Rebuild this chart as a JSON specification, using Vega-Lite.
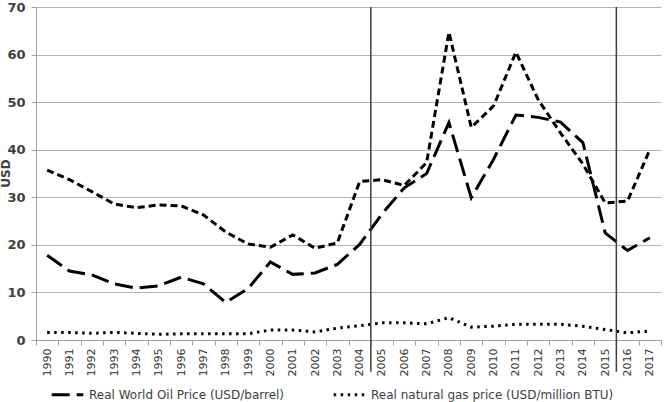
{
  "$schema": "https://vega.github.io/schema/vega-lite/v6.json",
  "width": 625,
  "height": 333,
  "autosize": {"type": "none"},
  "padding": {"left": 36, "top": 7, "right": 7, "bottom": 62},
  "background": "white",
  "config": {"view": {"stroke": null}, "font": "DejaVu Sans"},
  "datasets": {
    "prices": [
      {"year": 1990, "series": "Real World Oil Price (USD/barrel)", "value": 17.8},
      {"year": 1991, "series": "Real World Oil Price (USD/barrel)", "value": 14.5},
      {"year": 1992, "series": "Real World Oil Price (USD/barrel)", "value": 13.7},
      {"year": 1993, "series": "Real World Oil Price (USD/barrel)", "value": 11.8},
      {"year": 1994, "series": "Real World Oil Price (USD/barrel)", "value": 10.9},
      {"year": 1995, "series": "Real World Oil Price (USD/barrel)", "value": 11.4},
      {"year": 1996, "series": "Real World Oil Price (USD/barrel)", "value": 13.2},
      {"year": 1997, "series": "Real World Oil Price (USD/barrel)", "value": 11.8},
      {"year": 1998, "series": "Real World Oil Price (USD/barrel)", "value": 7.9},
      {"year": 1999, "series": "Real World Oil Price (USD/barrel)", "value": 10.8},
      {"year": 2000, "series": "Real World Oil Price (USD/barrel)", "value": 16.4},
      {"year": 2001, "series": "Real World Oil Price (USD/barrel)", "value": 13.8},
      {"year": 2002, "series": "Real World Oil Price (USD/barrel)", "value": 14.1},
      {"year": 2003, "series": "Real World Oil Price (USD/barrel)", "value": 15.9},
      {"year": 2004, "series": "Real World Oil Price (USD/barrel)", "value": 20.1},
      {"year": 2005, "series": "Real World Oil Price (USD/barrel)", "value": 26.5},
      {"year": 2006, "series": "Real World Oil Price (USD/barrel)", "value": 32.0},
      {"year": 2007, "series": "Real World Oil Price (USD/barrel)", "value": 35.0},
      {"year": 2008, "series": "Real World Oil Price (USD/barrel)", "value": 45.7},
      {"year": 2009, "series": "Real World Oil Price (USD/barrel)", "value": 29.9},
      {"year": 2010, "series": "Real World Oil Price (USD/barrel)", "value": 38.0},
      {"year": 2011, "series": "Real World Oil Price (USD/barrel)", "value": 47.3},
      {"year": 2012, "series": "Real World Oil Price (USD/barrel)", "value": 46.8},
      {"year": 2013, "series": "Real World Oil Price (USD/barrel)", "value": 45.8},
      {"year": 2014, "series": "Real World Oil Price (USD/barrel)", "value": 41.5},
      {"year": 2015, "series": "Real World Oil Price (USD/barrel)", "value": 22.5},
      {"year": 2016, "series": "Real World Oil Price (USD/barrel)", "value": 18.8},
      {"year": 2017, "series": "Real World Oil Price (USD/barrel)", "value": 21.5},
      {"year": 1990, "series": "Other series", "value": 35.7},
      {"year": 1991, "series": "Other series", "value": 33.7},
      {"year": 1992, "series": "Other series", "value": 31.2},
      {"year": 1993, "series": "Other series", "value": 28.6},
      {"year": 1994, "series": "Other series", "value": 27.8},
      {"year": 1995, "series": "Other series", "value": 28.4},
      {"year": 1996, "series": "Other series", "value": 28.2},
      {"year": 1997, "series": "Other series", "value": 26.3},
      {"year": 1998, "series": "Other series", "value": 22.7},
      {"year": 1999, "series": "Other series", "value": 20.2},
      {"year": 2000, "series": "Other series", "value": 19.5},
      {"year": 2001, "series": "Other series", "value": 22.1},
      {"year": 2002, "series": "Other series", "value": 19.3},
      {"year": 2003, "series": "Other series", "value": 20.4},
      {"year": 2004, "series": "Other series", "value": 33.3},
      {"year": 2005, "series": "Other series", "value": 33.7},
      {"year": 2006, "series": "Other series", "value": 32.5},
      {"year": 2007, "series": "Other series", "value": 37.3},
      {"year": 2008, "series": "Other series", "value": 64.7},
      {"year": 2009, "series": "Other series", "value": 44.7},
      {"year": 2010, "series": "Other series", "value": 49.2},
      {"year": 2011, "series": "Other series", "value": 60.5},
      {"year": 2012, "series": "Other series", "value": 50.5},
      {"year": 2013, "series": "Other series", "value": 43.5},
      {"year": 2014, "series": "Other series", "value": 37.0},
      {"year": 2015, "series": "Other series", "value": 28.8},
      {"year": 2016, "series": "Other series", "value": 29.2},
      {"year": 2017, "series": "Other series", "value": 40.0},
      {"year": 1990, "series": "Real natural gas price (USD/million BTU)", "value": 1.6},
      {"year": 1991, "series": "Real natural gas price (USD/million BTU)", "value": 1.6},
      {"year": 1992, "series": "Real natural gas price (USD/million BTU)", "value": 1.4},
      {"year": 1993, "series": "Real natural gas price (USD/million BTU)", "value": 1.6},
      {"year": 1994, "series": "Real natural gas price (USD/million BTU)", "value": 1.4},
      {"year": 1995, "series": "Real natural gas price (USD/million BTU)", "value": 1.2},
      {"year": 1996, "series": "Real natural gas price (USD/million BTU)", "value": 1.3},
      {"year": 1997, "series": "Real natural gas price (USD/million BTU)", "value": 1.3},
      {"year": 1998, "series": "Real natural gas price (USD/million BTU)", "value": 1.3},
      {"year": 1999, "series": "Real natural gas price (USD/million BTU)", "value": 1.3},
      {"year": 2000, "series": "Real natural gas price (USD/million BTU)", "value": 2.1},
      {"year": 2001, "series": "Real natural gas price (USD/million BTU)", "value": 2.1},
      {"year": 2002, "series": "Real natural gas price (USD/million BTU)", "value": 1.7},
      {"year": 2003, "series": "Real natural gas price (USD/million BTU)", "value": 2.5},
      {"year": 2004, "series": "Real natural gas price (USD/million BTU)", "value": 3.0},
      {"year": 2005, "series": "Real natural gas price (USD/million BTU)", "value": 3.6},
      {"year": 2006, "series": "Real natural gas price (USD/million BTU)", "value": 3.6},
      {"year": 2007, "series": "Real natural gas price (USD/million BTU)", "value": 3.4},
      {"year": 2008, "series": "Real natural gas price (USD/million BTU)", "value": 4.7},
      {"year": 2009, "series": "Real natural gas price (USD/million BTU)", "value": 2.7},
      {"year": 2010, "series": "Real natural gas price (USD/million BTU)", "value": 2.9},
      {"year": 2011, "series": "Real natural gas price (USD/million BTU)", "value": 3.3},
      {"year": 2012, "series": "Real natural gas price (USD/million BTU)", "value": 3.3},
      {"year": 2013, "series": "Real natural gas price (USD/million BTU)", "value": 3.3},
      {"year": 2014, "series": "Real natural gas price (USD/million BTU)", "value": 2.9},
      {"year": 2015, "series": "Real natural gas price (USD/million BTU)", "value": 2.2},
      {"year": 2016, "series": "Real natural gas price (USD/million BTU)", "value": 1.5},
      {"year": 2017, "series": "Real natural gas price (USD/million BTU)", "value": 1.9}
    ],
    "markers": [
      {"year": 2005, "lo": -6.7, "hi": 70},
      {"year": 2016, "lo": -6.7, "hi": 70}
    ]
  },
  "layer": [
    {
      "data": {"name": "prices"},
      "mark": {"type": "line", "interpolate": "linear", "strokeWidth": 3, "color": "black"},
      "encoding": {
        "x": {
          "field": "year", "type": "ordinal", "bandPosition": 0.5,
          "scale": {"type": "band", "paddingInner": 0, "paddingOuter": 0},
          "axis": {
            "title": null, "labelAngle": -90, "labelFontSize": 11, "labelColor": "#333333",
            "domainColor": "#a0a0a0", "tickColor": "#a0a0a0", "tickSize": 5, "tickBand": "extent",
            "grid": false, "labelPadding": 3
          }
        },
        "y": {
          "field": "value", "type": "quantitative",
          "scale": {"domain": [0, 70], "nice": false},
          "axis": {
            "values": [0, 10, 20, 30, 40, 50, 60, 70],
            "labelFontSize": 13, "labelFontWeight": "bold", "labelColor": "#404040",
            "gridColor": "#b5b5b5", "gridWidth": 1.2, "domainColor": "#a0a0a0",
            "tickColor": "#a0a0a0", "tickSize": 5, "labelPadding": 6,
            "title": "USD", "titleX": -24, "titleY": 166, "titleFontWeight": "bold",
            "titleColor": "#404040", "titleFontSize": 12
          }
        },
        "strokeDash": {
          "field": "series", "type": "nominal",
          "scale": {
            "domain": ["Real World Oil Price (USD/barrel)", "Real natural gas price (USD/million BTU)", "Other series"],
            "range": [[18, 7], [2.5, 4.5], [7, 4]]
          },
          "legend": {
            "values": ["Real World Oil Price (USD/barrel)", "Real natural gas price (USD/million BTU)"],
            "title": null, "orient": "none", "direction": "horizontal",
            "legendX": 14, "legendY": 370,
            "symbolType": "stroke", "symbolStrokeWidth": 3, "symbolSize": 1000,
            "symbolStrokeColor": "black",
            "labelFontSize": 12, "labelColor": "#404040", "columnPadding": 42,
            "labelLimit": 400
          }
        }
      }
    },
    {
      "data": {"name": "markers"},
      "mark": {"type": "rule", "color": "#404040", "strokeWidth": 1.5},
      "encoding": {
        "x": {"field": "year", "type": "ordinal", "bandPosition": 0},
        "y": {"field": "lo", "type": "quantitative"},
        "y2": {"field": "hi"}
      }
    }
  ]
}
